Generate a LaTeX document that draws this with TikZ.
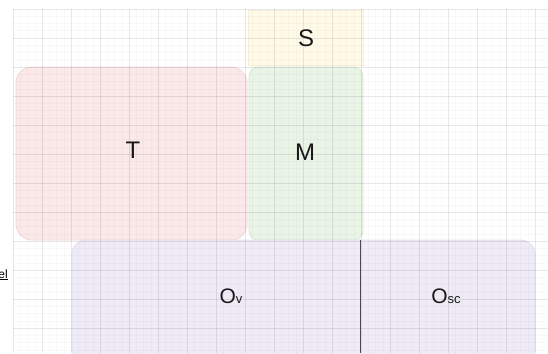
\documentclass[tikz,border=0pt]{standalone}
\usepackage{fontspec}
\setmainfont{Liberation Sans}
\definecolor{tfill}{HTML}{FBE8E9}
\definecolor{tline}{HTML}{F4D8DA}
\definecolor{mfill}{HTML}{E9F4E7}
\definecolor{mline}{HTML}{DAEBD6}
\definecolor{sfill}{HTML}{FFF9E8}
\definecolor{sline}{HTML}{F8EFD6}
\definecolor{ofill}{HTML}{EFEBF6}
\definecolor{oline}{HTML}{E4DEEE}
\begin{document}
\begin{tikzpicture}[x=1pt,y=-1pt,
  lbl/.style={font=\fontsize{24}{24}\selectfont, text=black!90},
  olbl/.style={font=\fontsize{21}{21}\selectfont, text=black!90},
  minorgrid/.style={black, opacity=0.025, line width=0.5pt},
  majorgrid/.style={black, opacity=0.065, line width=0.6pt}]
\useasboundingbox (0,0) rectangle (548,353);
\fill[white] (0,0) rectangle (548,353);
% boxes
\path[fill=sfill, draw=sline, line width=0.8pt] (248,10) rectangle (363,65);
\path[fill=tfill, draw=tline, line width=0.8pt, rounded corners=16] (16,67) rectangle (247,240);
\path[fill=mfill, draw=mline, line width=0.8pt, rounded corners=9] (249,67) rectangle (363,240);
\path[fill=ofill, draw=oline, line width=0.8pt, rounded corners=14] (72,240) rectangle (535,362);
% faint background grid (shows through the boxes)
\foreach \i in {0,...,74}
  \draw[minorgrid] ({13+7.25*\i},9) -- ({13+7.25*\i},353);
\foreach \i in {0,...,47}
  \draw[minorgrid] (13,{9+7.25*\i}) -- (548,{9+7.25*\i});
\foreach \i in {0,...,18}
  \draw[majorgrid] ({13+29*\i},9) -- ({13+29*\i},353);
\foreach \i in {0,...,11}
  \draw[majorgrid] (13,{9+29*\i}) -- (548,{9+29*\i});
% labels and divider
\node[lbl] (S) at (306,38) {S};
\node[lbl] (T) at (133,150) {T};
\node[lbl] (M) at (305,152) {M};
\draw[black!70, line width=1pt] (360,240) -- (360,353);
\node[olbl, anchor=base] (Ov) at (231,303) {O\fontsize{13}{13}\selectfont v};
\node[olbl, anchor=base] (Osc) at (446,303) {O\fontsize{13}{13}\selectfont sc};
\node[anchor=base east, inner sep=0pt, font=\fontsize{12}{12}\selectfont\rmfamily] (el) at (8,278) {\underline{el}};
\end{tikzpicture}
\end{document}
